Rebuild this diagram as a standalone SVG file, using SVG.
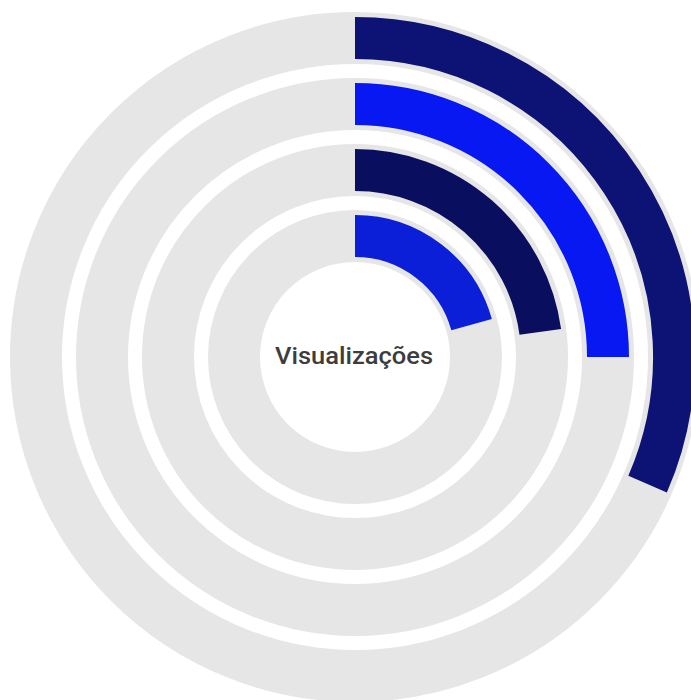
<svg xmlns="http://www.w3.org/2000/svg" width="691" height="700" viewBox="0 0 691 700">
  <style>
    .track { fill: none; stroke: #e6e6e6; stroke-width: 52; }
    .bar { fill: none; stroke-width: 42; stroke-linecap: butt; }
    .label { font-family: Roboto, "Liberation Sans", sans-serif; font-size: 23.5px; font-weight: 500; fill: #3d3d3d; text-anchor: middle; }
  </style>
  <rect width="691" height="700" fill="#ffffff"/>
  <g id="ring1">
    <circle class="track" cx="355" cy="357" r="319"/>
    <path class="bar" stroke="#0d1275" d="M355,38 A319,319 0 0 1 647.6,484.2"/>
  </g>
  <g id="ring2">
    <circle class="track" cx="355" cy="357" r="253"/>
    <path class="bar" stroke="#0818f2" d="M355,104 A253,253 0 0 1 608,357"/>
  </g>
  <g id="ring3">
    <circle class="track" cx="355" cy="357" r="187"/>
    <path class="bar" stroke="#0a0e5e" d="M355,170 A187,187 0 0 1 540.3,331.9"/>
  </g>
  <g id="ring4">
    <circle class="track" cx="355" cy="357" r="121"/>
    <path class="bar" stroke="#0b1fd8" d="M355,236 A121,121 0 0 1 471.6,324.7"/>
  </g>
  <g id="center">
    <text class="label" x="354" y="364" textLength="158" lengthAdjust="spacingAndGlyphs">Visualizações</text>
  </g>
</svg>
